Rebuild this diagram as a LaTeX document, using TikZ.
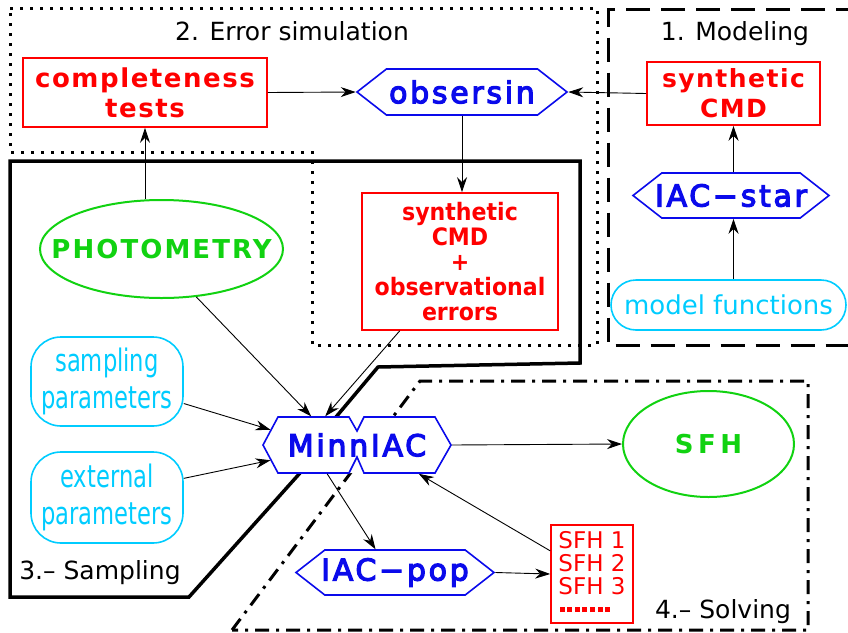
\documentclass[tikz,border=0pt]{standalone}
\usepackage{fontspec}
\setmainfont{DejaVu Sans}
\newfontfamily\progfont[LetterSpace=9,FakeBold=4]{DejaVu Sans}
\newfontfamily\filefont[LetterSpace=6]{DejaVu Sans}
\newfontfamily\datafont[LetterSpace=8]{DejaVu Sans}
\newfontfamily\widefont[LetterSpace=17]{DejaVu Sans}
\newfontfamily\condfont[FakeStretch=0.73]{DejaVu Sans}
\newfontfamily\errfont[FakeStretch=0.92]{DejaVu Sans}
\usetikzlibrary{arrows.meta,calc,shapes.geometric,shapes.symbols}
\definecolor{sfred}{RGB}{255,0,0}
\definecolor{sfblue}{RGB}{10,10,235}
\definecolor{sfgreen}{RGB}{17,210,17}
\definecolor{sfcyan}{RGB}{0,204,255}
\newcommand\sfhdots{\hbox to 53pt{\xleaders\hbox to 7.5pt{\hss\rule[5pt]{5pt}{5pt}\hss}\hfill}}
\tikzset{
  region/.style={line width=3pt},
  dotbox/.style={region, dash pattern=on 3pt off 7pt},
  dashbox/.style={region, dash pattern=on 24pt off 11pt},
  dashdotbox/.style={region, dash pattern=on 14pt off 7pt on 3pt off 7pt},
  solidbox/.style={line width=3.5pt, line join=miter},
  steplabel/.style={anchor=base, font=\fontsize{25}{30}\selectfont},
  filebox/.style={draw=sfred, line width=1.6pt, text=sfred, align=center, inner sep=0pt},
  progbox/.style={signal, signal to=east and west, signal pointer angle=76, draw=sfblue,
    line width=1.6pt, fill=white, text=sfblue, inner sep=0pt,
    font=\progfont\fontsize{30}{36}\selectfont},
  databox/.style={ellipse, draw=sfgreen, line width=2pt, text=sfgreen, inner sep=0pt},
  parambox/.style={draw=sfcyan, line width=1.6pt, text=sfcyan, align=center, inner sep=0pt},
  flow/.style={-{Stealth[length=15pt,width=10pt]}, line width=0.9pt},
}

\begin{document}
\begin{tikzpicture}[x=1pt, y=-1pt]
  \useasboundingbox (0,0) rectangle (848,632);
  %%%%% STAGES %%%%%
  \draw[dotbox] (10,8) -- (597,8) -- (597,345) -- (312,345) -- (312,152) -- (10,152) -- cycle;
  \draw[dashbox] (860,9.5) -- (608,9.5) -- (608,345) -- (860,345);
  \draw[solidbox] (10,161) -- (580,161) -- (580,363) -- (378,367) -- (336,417) -- (300,473) -- (189,597) -- (10,597) -- cycle;
  \draw[dashdotbox] (232,630) -- (420,381) -- (808,381) -- (808,630) -- cycle;

  \node[steplabel] (errlbl) at (292,40) {2. Error simulation};
  \node[steplabel] (modlbl) at (735,40) {1. Modeling};
  \node[steplabel] (samplbl) at (100,579) {3.– Sampling};
  \node[steplabel] (solvlbl) at (723,618) {4.– Solving};

  %%%%% BOXES %%%%%
  \node[filebox, minimum width=244, minimum height=69, font=\filefont\bfseries\fontsize{26}{30}\selectfont] (comp) at (145,92.5) {completeness\\tests};
  \node[progbox, minimum width=210, minimum height=46] (obs) at (462,92) {\makebox[0pt]{obsersin}};
  \node[filebox, minimum width=173, minimum height=63, font=\filefont\bfseries\fontsize{25}{30}\selectfont] (syn) at (733.5,93.5) {synthetic\\CMD};
  \node[progbox, minimum width=196, minimum height=45] (star) at (731,195.5) {\makebox[0pt]{IAC−star}};
  \node[parambox, rounded corners=25, minimum width=235, minimum height=50, font=\fontsize{26}{30}\selectfont] (mf) at (728.5,305) {model functions};
  \node[filebox, minimum width=196, minimum height=137, font=\errfont\bfseries\fontsize{24}{25}\selectfont] (err) at (460,261.5) {synthetic\\CMD\\+\\observational\\errors};
  \node[databox, minimum width=243, minimum height=98, font=\datafont\bfseries\fontsize{26}{30}\selectfont] (photo) at (161.5,249) {\makebox[0pt]{PHOTOMETRY}};
  \node[parambox, rounded corners=30, minimum width=152, minimum height=89, font=\condfont\fontsize{31}{37}\selectfont] (samp) at (107,381.5) {sampling\\parameters};
  \node[parambox, rounded corners=30, minimum width=152, minimum height=91, font=\condfont\fontsize{31}{37}\selectfont] (ext) at (107,497.5) {external\\parameters};
  \node[progbox, draw=none, signal pointer angle=122, minimum width=188, minimum height=56] (minn) at (357,445) {\makebox[0pt]{MinnIAC}};
  \draw[sfblue, line width=1.6pt, line join=miter] ($(minn.center)+(-94,0)$) -- ++(15,-28) -- ++(71,0) -- ++(8,14) -- ++(7,-14) -- ++(71,0) -- ++(16,28)
    -- ++(-16,28) -- ++(-71,0) -- ++(-7,-16) -- ++(-8,16) -- ++(-71,0) -- cycle;
  \node[databox, minimum width=171, minimum height=106, font=\widefont\bfseries\fontsize{26}{30}\selectfont] (sfh) at (708.5,444) {SFH};
  \node[progbox, minimum width=198, minimum height=45] (pop) at (395,572.5) {\makebox[0pt]{IAC−pop}};
  \node[filebox, align=left, minimum width=82, minimum height=98, font=\fontsize{23}{23}\selectfont] (list) at (592,574) {SFH 1\\SFH 2\\SFH 3\\\sfhdots};

  %%%%% FLOW %%%%%
  \draw[flow] (comp.south |- photo.north) -- (comp.south);
  \draw[flow] (comp.east) -- (obs.west);
  \draw[flow] (syn.west) -- (obs.east);
  \draw[flow] (obs.south) -- (obs.south |- err.north);
  \draw[flow] (syn.south |- star.north) -- (syn.south);
  \draw[flow] (mf.north -| syn.south) -- (star.south -| syn.south);
  \draw[flow] (photo.-54) -- (minn.148);
  \draw[flow] (err.229) -- (minn.138);
  \draw[flow] (samp.-16) -- (minn.170);
  \draw[flow] (ext.14) -- (minn.190);
  \draw[flow] (minn.east) -- (sfh.west);
  \draw[flow] (minn.224) -- (pop.130);
  \draw[flow] (pop.east) -- (list.west);
  \draw[flow] (list.151) -- (minn.-25);
\end{tikzpicture}
\end{document}
